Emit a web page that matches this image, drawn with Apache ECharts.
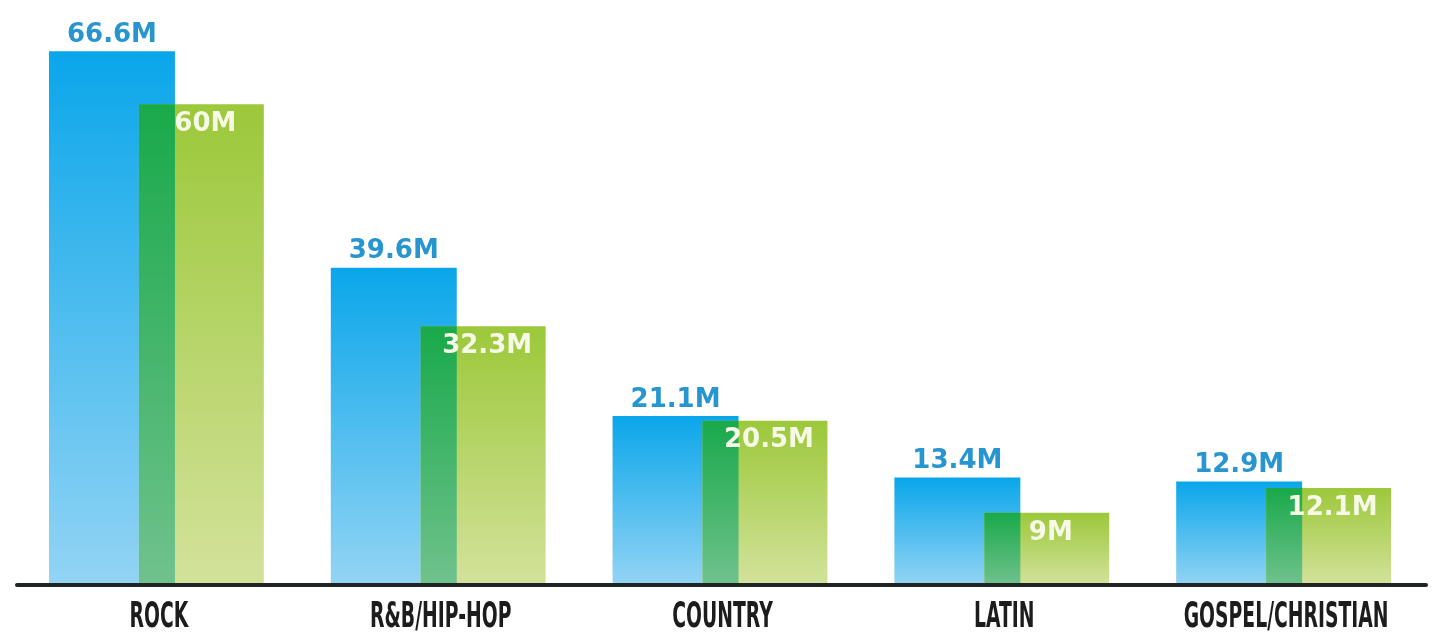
<!DOCTYPE html>
<html>
<head>
<meta charset="utf-8">
<script src="https://cdn.jsdelivr.net/npm/echarts@6/dist/echarts.min.js"></script>
<style>
  html, body { margin: 0; padding: 0; background: #ffffff; }
  #chart { width: 1433px; height: 632px; }
</style>
</head>
<body>
<div id="chart"></div>
<script>
// Genre totals, in millions
const categories = ['ROCK', 'R&B/HIP-HOP', 'COUNTRY', 'LATIN', 'GOSPEL/CHRISTIAN'];
const blueValues = [66.6, 39.6, 21.1, 13.4, 12.9];
const greenValues = [60, 32.3, 20.5, 9, 12.1];

// Bar placement inside each category band (fractions of the band width)
const BLUE_OFF = -0.3865, BLUE_W = 0.447;
const GREEN_OFF = -0.0674, GREEN_W = 0.4433;

const VALUE_FONT = 'bold 26px "DejaVu Sans", sans-serif';
const CAT_FONT = 'bold 36px "Liberation Sans Narrow", "DejaVu Sans Condensed", "Liberation Sans", sans-serif';

const fmt = v => v + 'M';

function vGrad(top, bottom) {
  return new echarts.graphic.LinearGradient(0, 0, 0, 1, [
    { offset: 0, color: top },
    { offset: 1, color: bottom }
  ]);
}

function blueItem(params, api) {
  const i = api.value(0), v = api.value(1);
  const band = api.size([1, 0])[0];
  const base = api.coord([i, 0]);
  const top = api.coord([i, v]);
  const x = base[0] + BLUE_OFF * band, w = BLUE_W * band;
  return {
    type: 'group',
    children: [
      { type: 'rect', shape: { x: x, y: top[1], width: w, height: base[1] - top[1] },
        style: { fill: vGrad('#0aa6ea', '#93d4f4') } },
      { type: 'text', x: x + w / 2, y: top[1] - 3,
        style: { text: fmt(v), font: VALUE_FONT, fill: '#2795d0', align: 'center', verticalAlign: 'bottom' } }
    ]
  };
}

function greenItem(params, api) {
  const i = api.value(0), v = api.value(1);
  const band = api.size([1, 0])[0];
  const base = api.coord([i, 0]);
  const top = api.coord([i, v]);
  const x = base[0] + GREEN_OFF * band, w = GREEN_W * band;
  const stripW = base[0] + (BLUE_OFF + BLUE_W) * band - x;
  const h = base[1] - top[1];
  return {
    type: 'group',
    children: [
      { type: 'rect', shape: { x: x, y: top[1], width: w, height: h },
        style: { fill: vGrad('#9cc83a', '#d3e29b') } },
      { type: 'rect', shape: { x: x, y: top[1], width: stripW, height: h },
        style: { fill: vGrad('#19a94a', '#70c28d') } },
      { type: 'text', x: x + w / 2 + 4, y: top[1] + 7,
        style: { text: fmt(v), font: VALUE_FONT, fill: '#f5f9e6', align: 'center', verticalAlign: 'top' } }
    ]
  };
}

function categoryItem(params, api) {
  const i = api.value(0);
  const base = api.coord([i, 0]);
  return {
    type: 'text', x: base[0] + 1, y: base[1] + 33, scaleX: 0.58,
    style: { text: categories[i], font: CAT_FONT, fill: '#1c1c1c', align: 'center', verticalAlign: 'middle' }
  };
}

const chart = echarts.init(document.getElementById('chart'), null, { renderer: 'canvas' });
chart.setOption({
  animation: false,
  backgroundColor: '#ffffff',
  grid: { left: 17, right: 7, top: 24, bottom: 47 },
  xAxis: {
    type: 'category',
    data: categories,
    axisTick: { show: false },
    axisLabel: { show: false },
    axisLine: { show: true, lineStyle: { color: '#1d2525', width: 4 } },
    z: 5
  },
  yAxis: { type: 'value', min: 0, max: 70, show: false, splitLine: { show: false } },
  series: [
    { name: 'blue', type: 'custom', renderItem: blueItem, z: 2,
      data: blueValues.map((v, i) => [i, v]) },
    { name: 'green', type: 'custom', renderItem: greenItem, z: 3,
      data: greenValues.map((v, i) => [i, v]) },
    { name: 'categories', type: 'custom', renderItem: categoryItem, z: 4, silent: true,
      data: categories.map((c, i) => [i, 0]) }
  ]
});
</script>
</body>
</html>
